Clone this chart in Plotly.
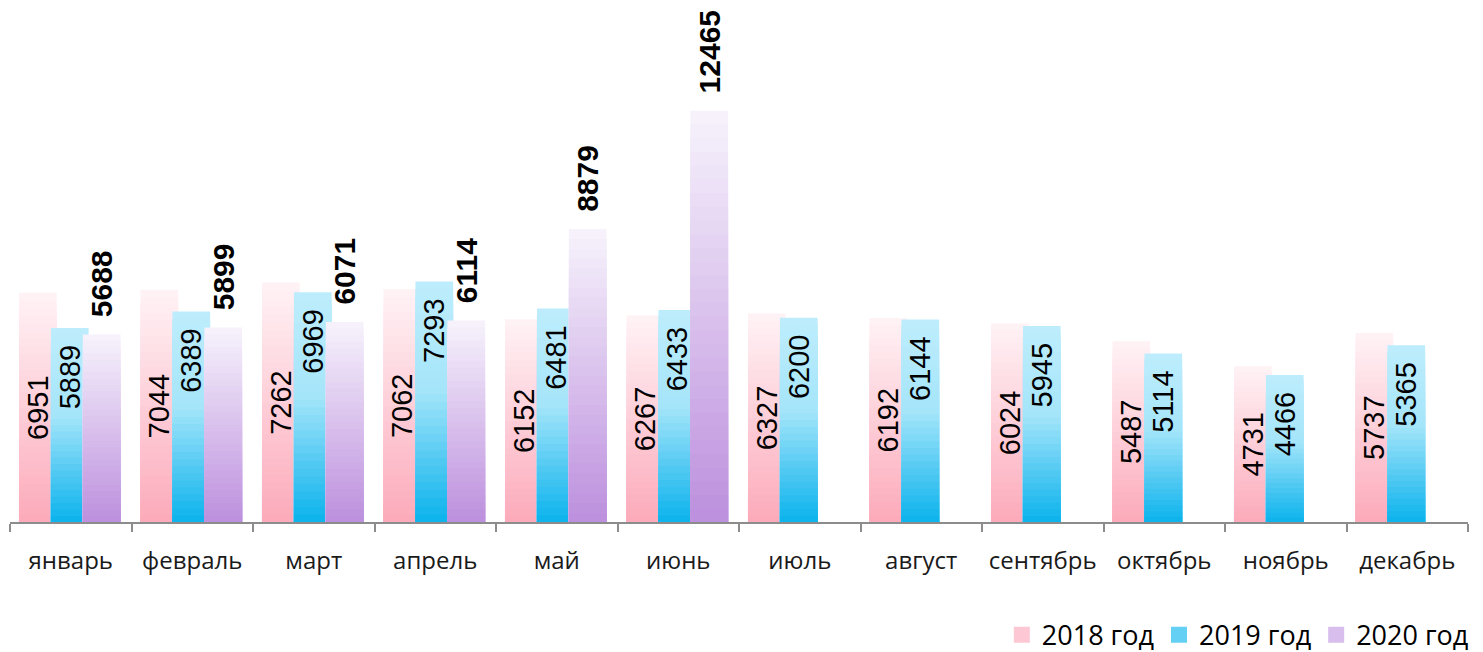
import plotly.graph_objects as go

months = ["январь", "февраль", "март", "апрель", "май", "июнь",
          "июль", "август", "сентябрь", "октябрь", "ноябрь", "декабрь"]
v2018 = [6951, 7044, 7262, 7062, 6152, 6267, 6327, 6192, 6024, 5487, 4731, 5737]
v2019 = [5889, 6389, 6969, 7293, 6481, 6433, 6200, 6144, 5945, 5114, 4466, 5365]
v2020 = [5688, 5899, 6071, 6114, 8879, 12465, None, None, None, None, None, None]
names = ["2018 год", "2019 год", "2020 год"]

# gradient stops: (fraction from top, rgb)
grads = [
    [(0.0, (255, 243, 246)), (1.0, (252, 170, 186))],
    [(0.0, (190, 237, 252)), (0.45, (165, 229, 250)), (1.0, (10, 178, 236))],
    [(0.0, (247, 243, 251)), (1.0, (188, 143, 222))],
]
legend_colors = ["rgb(253,200,212)", "rgb(100,208,244)", "rgb(215,190,236)"]
offsets = [-0.426, -0.163, 0.10]
width = 0.31
K = 30


def color_at(stops, t):
    for (p0, c0), (p1, c1) in zip(stops[:-1], stops[1:]):
        if p0 <= t <= p1:
            f = 0 if p1 == p0 else (t - p0) / (p1 - p0)
            c = [round(a + (b - a) * f) for a, b in zip(c0, c1)]
            return "rgb(%d,%d,%d)" % tuple(c)
    return "rgb(%d,%d,%d)" % stops[-1][1]


fig = go.Figure()
series = [v2018, v2019, v2020]
for si, vals in enumerate(series):
    for k in range(K):
        frac = (K - k) / K
        t = (k + 0.5) / K
        ys = [None if v is None else v * frac for v in vals]
        fig.add_trace(go.Bar(
            x=months, y=ys, offset=offsets[si], width=width,
            marker=dict(color=color_at(grads[si], t), line=dict(width=0)),
            showlegend=False, hoverinfo="skip",
        ))

label_font = dict(family="Liberation Sans, Arial", size=29, color="#000000")

# 2018: labels centred inside bars
fig.add_trace(go.Bar(
    x=months, y=v2018, offset=offsets[0], width=width,
    marker=dict(color="rgba(0,0,0,0)", line=dict(width=0)),
    text=[str(v) for v in v2018], textposition="inside", insidetextanchor="middle",
    textangle=-90, constraintext="none", insidetextfont=label_font,
    showlegend=False, hoverinfo="skip", cliponaxis=False,
))
# 2019: labels at the inside end of bars
fig.add_trace(go.Bar(
    x=months, y=v2019, offset=offsets[1], width=width,
    marker=dict(color="rgba(0,0,0,0)", line=dict(width=0)),
    text=[str(v) + "\u00a0\u2009" for v in v2019], textposition="inside",
    insidetextanchor="end",
    textangle=-90, constraintext="none", insidetextfont=label_font,
    showlegend=False, hoverinfo="skip", cliponaxis=False,
))
# 2020: bold labels above bars
fig.add_trace(go.Bar(
    x=months, y=v2020, offset=offsets[2], width=width,
    marker=dict(color="rgba(0,0,0,0)", line=dict(width=0)),
    text=["" if v is None else "\u00a0\u2009" + str(v) for v in v2020],
    textposition="outside", textangle=-90, constraintext="none",
    outsidetextfont=dict(family="Liberation Sans, Arial", size=30, color="#000000",
                         weight="bold"),
    showlegend=False, hoverinfo="skip", cliponaxis=False,
))

# legend entries
for si in range(3):
    fig.add_trace(go.Scatter(
        x=[None], y=[None], mode="markers", name=names[si],
        marker=dict(symbol="square", size=18, color=legend_colors[si]),
        showlegend=True,
    ))

fig.update_layout(
    width=1483, height=652,
    barmode="overlay",
    paper_bgcolor="white", plot_bgcolor="white",
    margin=dict(l=2, r=23, t=19, b=0),
    showlegend=True,
    legend=dict(orientation="h", x=1.004, xanchor="right", y=0.036, yanchor="middle",
                font=dict(family="Open Sans", size=27, color="#000000"),
                itemwidth=30, traceorder="normal", bgcolor="rgba(0,0,0,0)"),
    xaxis=dict(showline=True, linecolor="#8c8c8c", linewidth=1.5,
               ticks="outside", tickson="boundaries", ticklen=8, tickcolor="#8c8c8c",
               tickwidth=1.5, ticklabelstandoff=16,
               tickfont=dict(family="Open Sans", size=24, color="#1a1a1a"),
               showgrid=False, zeroline=False),
    yaxis=dict(visible=False, range=[0, 15000], showgrid=False, zeroline=False,
               domain=[0.2148, 1]),
)

fig.write_html("out.html")
